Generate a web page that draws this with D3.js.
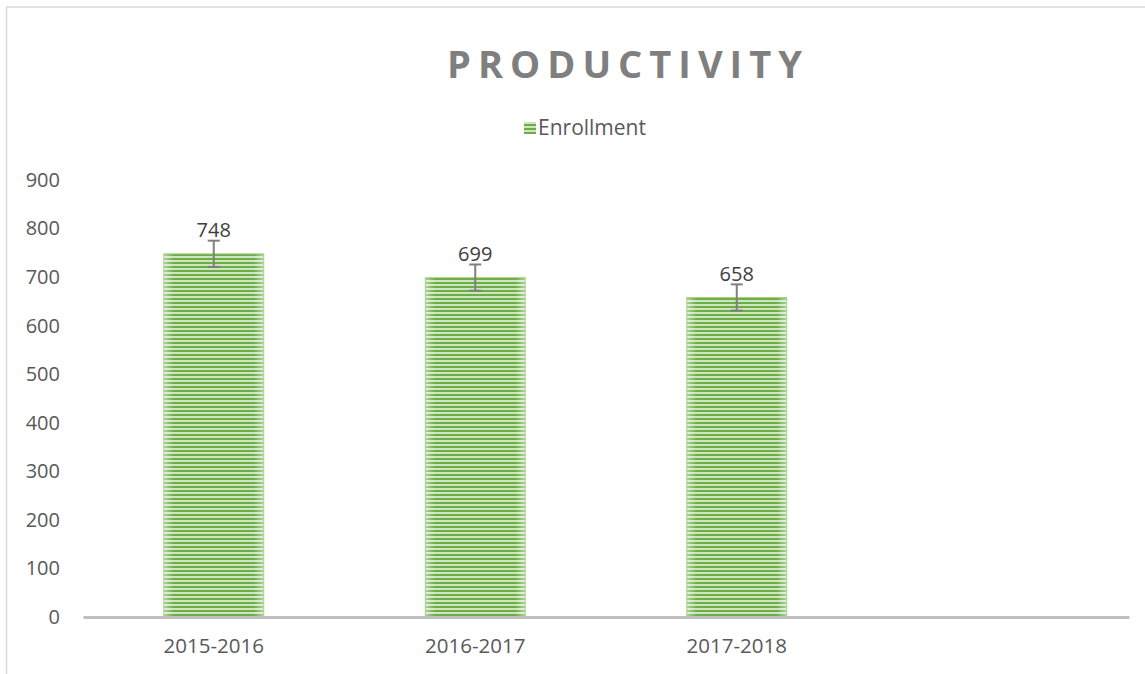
<!DOCTYPE html>
<html>
<head>
<meta charset="utf-8">
<script src="https://cdn.jsdelivr.net/npm/d3@7"></script>
<style>
  html, body { margin: 0; padding: 0; background: #fff; }
  svg { display: block; font-family: "Open Sans", sans-serif; }
</style>
</head>
<body>
<div id="main"></div>
<script>
// chart data
const categories = ["2015-2016", "2016-2017", "2017-2018", ""];
const enrollment = [748, 699, 658, null];
const errorMargin = [27, 27, 27, null];
const yTicks = [0, 100, 200, 300, 400, 500, 600, 700, 800, 900];
const seriesName = "Enrollment";
const chartTitle = "PRODUCTIVITY";

const width = 1145;
const height = 674;
const margin = { top: 180, right: 16, bottom: 57, left: 83 };

const svg = d3.select("#main").append("svg")
  .attr("width", width)
  .attr("height", height);

// striped fill like the excel pattern
const defs = svg.append("defs");
const pat = defs.append("pattern")
  .attr("id", "stripes")
  .attr("patternUnits", "userSpaceOnUse")
  .attr("width", 8)
  .attr("height", 4);
pat.append("rect").attr("width", 8).attr("height", 4).attr("fill", "#cfe5bf");
pat.append("rect").attr("y", 2).attr("width", 8).attr("height", 2).attr("fill", "#6cae46");

const edge = defs.append("linearGradient").attr("id", "edgeFade");
edge.append("stop").attr("offset", "0%").attr("stop-color", "#fff").attr("stop-opacity", 0.45);
edge.append("stop").attr("offset", "10%").attr("stop-color", "#fff").attr("stop-opacity", 0);
edge.append("stop").attr("offset", "90%").attr("stop-color", "#fff").attr("stop-opacity", 0);
edge.append("stop").attr("offset", "100%").attr("stop-color", "#fff").attr("stop-opacity", 0.45);

// outer chart border
svg.append("rect")
  .attr("x", 6.5).attr("y", 7)
  .attr("width", 1150).attr("height", 700)
  .attr("fill", "none")
  .attr("stroke", "#d9d9d9")
  .attr("stroke-width", 1.5);

const x = d3.scaleBand()
  .domain(categories)
  .range([margin.left, width - margin.right])
  .paddingInner(0.618)
  .paddingOuter(0.309);

const y = d3.scaleLinear()
  .domain([0, 900])
  .range([height - margin.bottom, margin.top]);

// title
svg.append("text")
  .attr("x", 628)
  .attr("y", 78)
  .attr("text-anchor", "middle")
  .attr("font-size", 38)
  .attr("font-weight", "bold")
  .attr("letter-spacing", 7)
  .attr("fill", "#7f7f7f")
  .text(chartTitle);

// legend
const legend = svg.append("g").attr("transform", "translate(524,122)");
legend.append("rect").attr("width", 12).attr("height", 12).attr("fill", "url(#stripes)");
legend.append("text")
  .attr("x", 14).attr("y", 13)
  .attr("font-size", 21)
  .attr("fill", "#595959")
  .text(seriesName);

// y axis labels (no axis line)
const yAxis = svg.append("g")
  .attr("transform", `translate(${margin.left},0)`)
  .call(d3.axisLeft(y).tickValues(yTicks).tickSize(0).tickPadding(23));
yAxis.select(".domain").remove();
yAxis.selectAll("text")
  .attr("font-family", "Open Sans, sans-serif")
  .attr("font-size", 20)
  .attr("fill", "#595959");

// bars
const rows = categories.map((c, i) => ({ cat: c, v: enrollment[i], err: errorMargin[i] }))
  .filter(d => d.v != null);

svg.selectAll("rect.bar")
  .data(rows)
  .enter().append("rect")
  .attr("class", "bar")
  .attr("x", d => x(d.cat))
  .attr("y", d => y(d.v))
  .attr("width", x.bandwidth())
  .attr("height", d => y(0) - y(d.v))
  .attr("fill", "url(#stripes)");

svg.selectAll("rect.fade")
  .data(rows)
  .enter().append("rect")
  .attr("class", "fade")
  .attr("x", d => x(d.cat))
  .attr("y", d => y(d.v))
  .attr("width", x.bandwidth())
  .attr("height", d => y(0) - y(d.v))
  .attr("fill", "url(#edgeFade)")
  .attr("stroke", "#a9d18e")
  .attr("stroke-width", 1);

// x axis line
const xAxis = svg.append("g")
  .attr("transform", `translate(0,${y(0)})`)
  .call(d3.axisBottom(x).tickSize(0).tickPadding(21));
xAxis.select(".domain")
  .attr("stroke", "#bfbfbf")
  .attr("stroke-width", 3);
xAxis.selectAll("text")
  .attr("font-family", "Open Sans, sans-serif")
  .attr("font-size", 20.5)
  .attr("fill", "#595959");

// error bars
const errG = svg.selectAll("g.err")
  .data(rows)
  .enter().append("g")
  .attr("class", "err")
  .attr("stroke", "#7f7f7f")
  .attr("stroke-width", 2);
errG.append("line")
  .attr("x1", d => x(d.cat) + x.bandwidth() / 2)
  .attr("x2", d => x(d.cat) + x.bandwidth() / 2)
  .attr("y1", d => y(d.v + d.err))
  .attr("y2", d => y(d.v - d.err));
errG.append("line")
  .attr("x1", d => x(d.cat) + x.bandwidth() / 2 - 6)
  .attr("x2", d => x(d.cat) + x.bandwidth() / 2 + 6)
  .attr("y1", d => y(d.v + d.err))
  .attr("y2", d => y(d.v + d.err));
errG.append("line")
  .attr("x1", d => x(d.cat) + x.bandwidth() / 2 - 6)
  .attr("x2", d => x(d.cat) + x.bandwidth() / 2 + 6)
  .attr("y1", d => y(d.v - d.err))
  .attr("y2", d => y(d.v - d.err));

// data labels
svg.selectAll("text.lbl")
  .data(rows)
  .enter().append("text")
  .attr("class", "lbl")
  .attr("x", d => x(d.cat) + x.bandwidth() / 2)
  .attr("y", d => y(d.v) - 17)
  .attr("text-anchor", "middle")
  .attr("font-size", 20)
  .attr("fill", "#404040")
  .text(d => d.v);
</script>
</body>
</html>
